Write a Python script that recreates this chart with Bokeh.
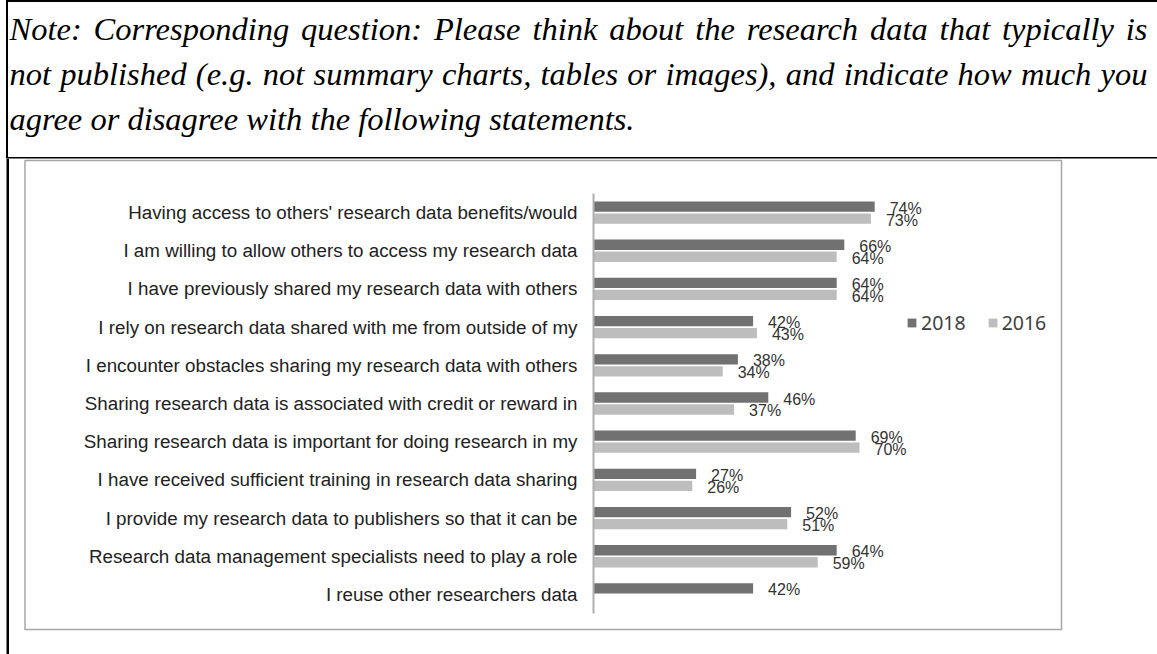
import math
from bokeh.plotting import figure
from bokeh.models import Range1d, FixedTicker, ColumnDataSource, Legend, LegendItem, Div
from bokeh.layouts import column
from bokeh.transform import dodge
from bokeh.embed import file_html
from bokeh.resources import INLINE
from bokeh.core.properties import value

# ---------------- data ----------------
categories = [
    "Having access to others' research data benefits/would",
    "I am willing to allow others to access my research data",
    "I have previously shared my research data with others",
    "I rely on research data shared with me from outside of my",
    "I encounter obstacles sharing my research data with others",
    "Sharing research data is associated with credit or reward in",
    "Sharing research data is important for doing research in my",
    "I have received sufficient training in research data sharing",
    "I provide my research data to publishers so that it can be",
    "Research data management specialists need to play a role",
    "I reuse other researchers data",
]
values_2018 = [74, 66, 64, 42, 38, 46, 69, 27, 52, 64, 42]
values_2016 = [73, 64, 64, 43, 34, 37, 70, 26, 51, 59, None]
series_names = ["2018", "2016"]

note_lines = [
    "Note: Corresponding question: Please think about the research data that typically is",
    "not published (e.g. not summary charts, tables or images), and indicate how much you",
    "agree or disagree with the following statements.",
]

# ---------------- layout constants ----------------
W = 1157
NOTE_H = 158
H = 654 - NOTE_H
PX_PER_PCT = 3.8
AXIS_X = 593
BAND_TOP, BAND_BOTTOM = 35, 455
DARK, LIGHT = "#717171", "#bdbdbd"

n = len(categories)
u = (BAND_BOTTOM - BAND_TOP) / n
y_top = -0.5 - BAND_TOP / u
y_bot = (H - BAND_TOP) / u - 0.5

def pct(v):
    return "" if v is None else f"{v}%"

src = ColumnDataSource(dict(
    idx=list(range(n)),
    v18=[float("nan") if v is None else v for v in values_2018],
    v16=[float("nan") if v is None else v for v in values_2016],
    l18=[pct(v) for v in values_2018],
    l16=[pct(v) for v in values_2016],
))

p = figure(width=W, height=H,
           x_range=Range1d(-AXIS_X / PX_PER_PCT, (W - AXIS_X) / PX_PER_PCT),
           y_range=Range1d(y_bot, y_top),
           output_backend="svg", toolbar_location=None,
           x_axis_location=None, y_axis_location="left",
           min_border=0, outline_line_color=None)
p.margin = 0
p.grid.visible = False
p.background_fill_color = "white"
p.border_fill_color = "white"

# decoration (pixel space)
p.extra_x_ranges = {"px": Range1d(0, W)}
p.extra_y_ranges = {"px": Range1d(H, 0)}
p.segment(x0=[7.25], y0=[0], x1=[7.25], y1=[H], line_color="black", line_width=2.5,
          x_range_name="px", y_range_name="px")
p.quad(left=[24.5], right=[1061], top=[2], bottom=[471], fill_color=None,
       line_color="#a6a6a6", line_width=1.5, x_range_name="px", y_range_name="px")

OFF = 0.157
r18 = p.hbar(y=dodge("idx", -OFF), right="v18", left=0, height=0.27, source=src,
             fill_color=DARK, line_color=None)
r16 = p.hbar(y=dodge("idx", OFF), right="v16", left=0, height=0.27, source=src,
             fill_color=LIGHT, line_color=None)

for fld, lab, off in (("v18", "l18", -OFF), ("v16", "l16", OFF)):
    p.text(x=fld, y=dodge("idx", off), text=lab, source=src, x_offset=15, y_offset=1.5,
           text_align="left", text_baseline="middle",
           text_font=value("Liberation Sans"), text_font_size="16px", text_color="#333333")

ax = p.yaxis[0]
ax.fixed_location = 0
ax.bounds = (-0.5, n - 0.5)
ax.ticker = FixedTicker(ticks=list(range(n)))
ax.major_label_overrides = {i: c for i, c in enumerate(categories)}
ax.major_tick_line_color = None
ax.minor_tick_line_color = None
ax.major_tick_out = 0
ax.major_tick_in = 0
ax.axis_line_color = "#b0b0b0"
ax.axis_line_width = 2
ax.major_label_standoff = 16
ax.major_label_text_font = "Liberation Sans"
ax.major_label_text_font_size = "18.8px"
ax.major_label_text_color = "#222222"

legend = Legend(items=[LegendItem(label=series_names[0], renderers=[r18]),
                       LegendItem(label=series_names[1], renderers=[r16])],
                orientation="horizontal", location=(906, 318),
                glyph_width=11, glyph_height=11, label_standoff=4, spacing=21,
                padding=0, margin=0, border_line_color=None, background_fill_alpha=0,
                label_text_font="Noto Sans", label_text_font_size="19.5px",
                label_text_color="#404040")
p.add_layout(legend)

line_divs = []
for i, t in enumerate(note_lines):
    last = "left" if i == len(note_lines) - 1 else "justify"
    line_divs.append(f'<div style="text-align:justify;text-align-last:{last};white-space:nowrap;">{t}</div>')
note_html = (
    '<div style="box-sizing:content-box;margin:0 0 0 6px;width:1138px;height:149.5px;'
    'border-top:2.5px solid #000;border-left:2.5px solid #000;border-bottom:2.5px solid #000;'
    'padding:5px 12px 0 1.5px;font-family:\'Liberation Serif\',serif;font-style:italic;'
    'font-size:32.5px;line-height:45px;color:#000;overflow:hidden;">'
    + "".join(line_divs) + '</div>'
)
div = Div(text=note_html, width=W, height=NOTE_H, margin=0)

layout = column(div, p, spacing=0)
open("out.html", "w").write(file_html(layout, INLINE))
